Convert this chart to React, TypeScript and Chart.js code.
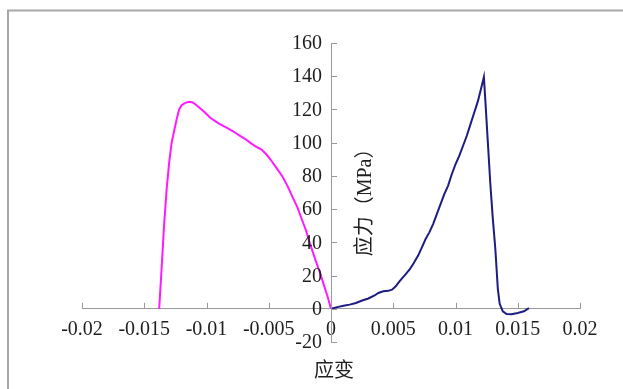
import React, { useEffect, useRef } from "react";
import { Chart, registerables } from "chart.js";

Chart.register(...registerables);

// Compression curve (magenta): strain, stress (MPa)
const pinkStrain = [
  -0.0138, -0.0136, -0.0134, -0.0132, -0.013, -0.0128, -0.0126, -0.0124, -0.0122, -0.012,
  -0.0117, -0.0114, -0.0111, -0.0108, -0.0104, -0.0101, -0.0097, -0.0093, -0.009, -0.0085,
  -0.0079, -0.0074, -0.00685, -0.0063, -0.006, -0.0056, -0.0052, -0.00484, -0.0044, -0.0039,
  -0.0035, -0.0031, -0.0027, -0.0023, -0.002, -0.00177, -0.0015, -0.00123, -0.0009, -0.0006,
  -0.0003, 0,
];
const pinkStress = [
  0, 25, 51, 72, 88, 100, 107, 114, 120, 122.5,
  124, 124.6, 124.2, 122.5, 120, 118, 115, 113, 111.5, 109.5,
  107, 104.5, 102, 99, 97.5, 96, 93, 89.7, 85, 79.6,
  74, 67.5, 61, 53, 47, 41, 35, 29, 22, 15,
  8, 0,
];

// Tension curve (navy): strain, stress (MPa)
const blueStrain = [
  0, 0.0005, 0.001, 0.0015, 0.002, 0.0025, 0.003, 0.0035, 0.0038, 0.0042,
  0.0046, 0.0049, 0.0052, 0.0055, 0.0059, 0.0063, 0.0066, 0.007, 0.0073, 0.0076,
  0.0079, 0.0082, 0.0085, 0.0088, 0.0091, 0.0094, 0.0097, 0.01, 0.0103, 0.0106,
  0.0109, 0.0112, 0.0115, 0.0118, 0.012, 0.0122, 0.01228, 0.0124, 0.0126, 0.0128,
  0.013, 0.0132, 0.0134, 0.01355, 0.0138, 0.0141, 0.0145, 0.015, 0.0155, 0.0159,
];
const blueStress = [
  0, 1, 1.8, 2.5, 3.5, 5, 6.2, 8, 9.5, 10.5,
  10.8, 11.5, 13.5, 16.5, 20, 23.5, 27, 32, 37, 42,
  46, 51, 57, 63, 69, 74, 81, 87, 92, 98,
  104, 111, 118, 125, 131, 137, 139.5, 125, 100, 75,
  54, 36, 12, 3, -1.5, -3.2, -3.3, -2.5, -1.5, 0.4,
];

const xTicks = [-0.02, -0.015, -0.01, -0.005, 0, 0.005, 0.01, 0.015, 0.02];
const yTicks = [-20, 0, 20, 40, 60, 80, 100, 120, 140, 160];
const xTitle = "应变";
const yTitle = "应力（MPa）";

const FONT = "'Liberation Serif', 'Times New Roman', 'Noto Sans CJK SC', serif";
const AXIS_COLOR = "#9a9a9a";
const TEXT_COLOR = "#1e1e1e";

const toPoints = (xs: number[], ys: number[]) => xs.map((x, i) => ({ x, y: ys[i] }));

export default function App() {
  const ref = useRef<HTMLCanvasElement | null>(null);

  useEffect(() => {
    if (!ref.current) return;

    const decor = {
      id: "decor",
      beforeDraw(chart: any) {
        const ctx = chart.ctx;
        ctx.save();
        ctx.strokeStyle = "#a8a8a8";
        ctx.lineWidth = 2;
        ctx.beginPath();
        ctx.moveTo(8, 389);
        ctx.lineTo(8, 10.5);
        ctx.lineTo(623, 10.5);
        ctx.stroke();
        ctx.restore();
      },
      afterDraw(chart: any) {
        const ctx = chart.ctx;
        const xs = chart.scales.x;
        const ys = chart.scales.y;
        const x0 = xs.getPixelForValue(0);
        const y0 = ys.getPixelForValue(0);
        ctx.save();
        ctx.strokeStyle = AXIS_COLOR;
        ctx.lineWidth = 1;
        ctx.beginPath();
        xTicks.forEach((v) => {
          const px = Math.round(xs.getPixelForValue(v)) + 0.5;
          ctx.moveTo(px, y0);
          ctx.lineTo(px, y0 - 6);
        });
        yTicks.forEach((v) => {
          const py = Math.round(ys.getPixelForValue(v)) + 0.5;
          ctx.moveTo(x0, py);
          ctx.lineTo(x0 + 6, py);
        });
        ctx.stroke();

        ctx.fillStyle = TEXT_COLOR;
        ctx.font = `20px ${FONT}`;

        // y tick labels, left of the centred axis
        ctx.textAlign = "right";
        ctx.textBaseline = "middle";
        yTicks.forEach((v) => {
          ctx.fillText(String(v), x0 - 9, ys.getPixelForValue(v) + 1);
        });

        ctx.textAlign = "center";
        ctx.fillText(xTitle, x0 + 3, 372);

        ctx.translate(x0 + 35, ys.getPixelForValue(67));
        ctx.rotate(-Math.PI / 2);
        ctx.fillText(yTitle, 0, 0);
        ctx.restore();
      },
    };

    const chart = new Chart(ref.current, {
      type: "scatter",
      data: {
        datasets: [
          {
            data: toPoints(pinkStrain, pinkStress),
            showLine: true,
            borderColor: "#ff1aff",
            borderWidth: 2,
            pointRadius: 0,
            tension: 0,
          },
          {
            data: toPoints(blueStrain, blueStress),
            showLine: true,
            borderColor: "#1c1c82",
            borderWidth: 2,
            pointRadius: 0,
            tension: 0,
          },
        ],
      },
      options: {
        animation: false,
        responsive: false,
        maintainAspectRatio: false,
        layout: { padding: { left: 82, right: 43, top: 43, bottom: 47 } },
        plugins: {
          legend: { display: false },
          tooltip: { enabled: false },
        },
        scales: {
          x: {
            type: "linear",
            min: -0.02,
            max: 0.02,
            position: { y: 0 } as any,
            afterBuildTicks: (scale: any) => {
              scale.ticks = xTicks.map((v) => ({ value: v }));
            },
            ticks: {
              autoSkip: false,
              maxRotation: 0,
              padding: 9,
              color: TEXT_COLOR,
              font: { family: FONT, size: 20 },
              callback: (v: any) => String(Number(Number(v).toFixed(4))),
            },
            grid: { display: true, drawOnChartArea: false, drawTicks: false },
            border: { display: true, color: AXIS_COLOR, width: 1 },
          },
          y: {
            type: "linear",
            min: -20,
            max: 160,
            position: { x: 0 } as any,
            afterBuildTicks: (scale: any) => {
              scale.ticks = yTicks.map((v) => ({ value: v }));
            },
            ticks: { display: false },
            grid: { display: true, drawOnChartArea: false, drawTicks: false },
            border: { display: true, color: AXIS_COLOR, width: 1 },
          },
        },
      },
      plugins: [decor],
    });

    return () => chart.destroy();
  }, []);

  return (
    <div style={{ position: "fixed", left: 0, top: 0, width: 623, height: 389, background: "#fff" }}>
      <canvas ref={ref} width={623} height={389} style={{ display: "block", width: 623, height: 389 }} />
    </div>
  );
}
